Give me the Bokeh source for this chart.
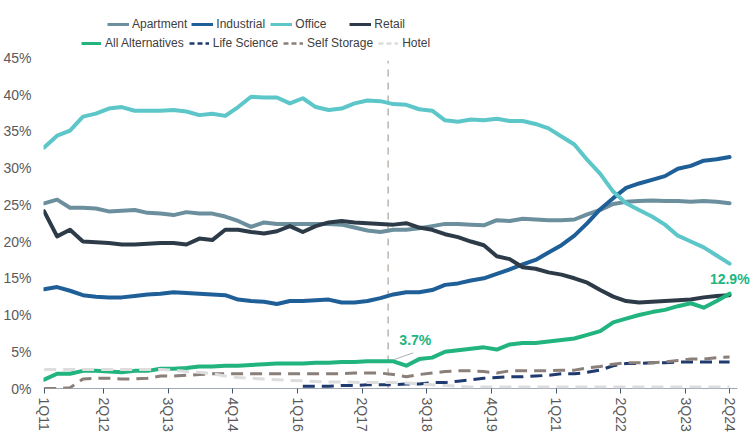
import numpy as np
from bokeh.plotting import figure
from bokeh.models import (Legend, LegendItem, FixedTicker, PrintfTickFormatter,
                          Range1d, Label)
from bokeh.embed import file_html
from bokeh.resources import INLINE

# ---------------- data ----------------
quarters = [f"{q}Q{yr % 100:02d}" for yr in range(2011, 2025) for q in range(1, 5)][:54]
tick_labels = ["1Q11", "2Q12", "3Q13", "4Q14", "1Q16", "2Q17", "3Q18",
               "4Q19", "1Q21", "2Q22", "3Q23", "2Q24"]
y_ticks = [0, 5, 10, 15, 20, 25, 30, 35, 40, 45]

apartment = [25.2, 25.7, 24.6, 24.6, 24.5, 24.1, 24.2, 24.3, 23.9, 23.8,
             23.6, 24.0, 23.8, 23.8, 23.4, 22.8, 22.0, 22.6, 22.4, 22.4,
             22.4, 22.4, 22.4, 22.3, 21.9, 21.5, 21.3, 21.6, 21.6, 21.8,
             22.1, 22.4, 22.4, 22.3, 22.2, 22.9, 22.8, 23.1, 23.0, 22.9,
             22.9, 23.0, 23.7, 24.3, 25.1, 25.4, 25.5, 25.6, 25.5, 25.5,
             25.4, 25.5, 25.4, 25.2]
industrial = [13.5, 13.8, 13.3, 12.7, 12.5, 12.4, 12.4, 12.6, 12.8, 12.9,
              13.1, 13.0, 12.9, 12.8, 12.7, 12.1, 11.9, 11.8, 11.5, 11.9,
              11.9, 12.0, 12.1, 11.7, 11.7, 11.9, 12.3, 12.8, 13.1, 13.1,
              13.4, 14.1, 14.3, 14.7, 15.0, 15.6, 16.2, 16.9, 17.5, 18.5,
              19.5, 20.8, 22.5, 24.4, 25.9, 27.3, 27.9, 28.4, 28.9, 29.9,
              30.3, 31.0, 31.2, 31.5]
office = [32.8, 34.4, 35.1, 37.0, 37.4, 38.1, 38.3, 37.8, 37.8, 37.8,
          37.9, 37.7, 37.2, 37.4, 37.1, 38.3, 39.7, 39.6, 39.6, 38.8,
          39.5, 38.3, 37.9, 38.1, 38.8, 39.2, 39.1, 38.7, 38.6, 38.0,
          37.8, 36.5, 36.3, 36.6, 36.5, 36.7, 36.4, 36.4, 36.0, 35.4,
          34.3, 33.2, 31.1, 29.2, 26.8, 25.2, 24.3, 23.4, 22.3, 20.8,
          20.0, 19.2, 18.1, 17.0]
retail = [24.1, 20.7, 21.6, 20.0, 19.9, 19.8, 19.6, 19.6, 19.7, 19.8,
          19.8, 19.6, 20.4, 20.2, 21.6, 21.6, 21.3, 21.1, 21.4, 22.1,
          21.3, 22.1, 22.6, 22.8, 22.6, 22.5, 22.4, 22.3, 22.5, 21.9,
          21.6, 21.0, 20.6, 20.0, 19.5, 18.0, 17.6, 16.5, 16.3, 15.8,
          15.5, 15.0, 14.4, 13.4, 12.5, 11.9, 11.7, 11.8, 11.9, 12.0,
          12.1, 12.4, 12.6, 12.7]
alternatives = [1.2, 2.0, 2.0, 2.4, 2.4, 2.3, 2.2, 2.4, 2.4, 2.7,
                2.7, 2.8, 3.0, 3.0, 3.1, 3.1, 3.2, 3.3, 3.4, 3.4,
                3.4, 3.5, 3.5, 3.6, 3.6, 3.7, 3.7, 3.7, 3.1, 4.0,
                4.2, 5.0, 5.2, 5.4, 5.6, 5.3, 6.0, 6.2, 6.2, 6.4,
                6.6, 6.8, 7.3, 7.8, 9.0, 9.5, 10.0, 10.4, 10.7, 11.2,
                11.6, 11.0, 11.9, 12.9]
life_science = [None, None, None, None, None, None, None, None, None, None,
                None, None, None, None, None, None, None, None, None, None,
                0.3, 0.3, 0.3, 0.4, 0.4, 0.5, 0.5, 0.5, 0.6, 0.6,
                0.8, 0.8, 1.0, 1.2, 1.4, 1.5, 1.6, 1.6, 1.7, 1.8,
                2.0, 2.0, 2.2, 2.5, 3.1, 3.4, 3.4, 3.5, 3.5, 3.6,
                3.6, 3.6, 3.6, 3.6]
self_storage = [0.0, 0.0, 0.1, 1.3, 1.4, 1.4, 1.3, 1.3, 1.4, 1.7,
                1.7, 1.8, 1.9, 2.0, 2.0, 2.0, 2.0, 2.0, 2.0, 2.0,
                2.0, 2.0, 2.0, 2.0, 2.1, 2.1, 2.1, 1.9, 1.6, 1.9,
                2.1, 2.3, 2.4, 2.4, 2.3, 2.1, 2.4, 2.4, 2.4, 2.4,
                2.5, 2.5, 2.8, 3.0, 3.3, 3.5, 3.5, 3.5, 3.6, 3.8,
                4.0, 4.0, 4.2, 4.3]
hotel = [2.6, 2.6, 2.6, 2.6, 2.6, 2.6, 2.6, 2.6, 2.6, 2.6,
         2.5, 2.3, 2.2, 2.0, 1.7, 1.5, 1.4, 1.3, 1.2, 1.1,
         1.05, 0.95, 0.9, 0.9, 0.85, 0.8, 0.8, 0.8, 0.75, 0.6,
         0.5, 0.4, 0.3, 0.2, 0.2, 0.2, 0.2, 0.2, 0.2, 0.2,
         0.2, 0.2, 0.2, 0.2, 0.2, 0.2, 0.2, 0.2, 0.2, 0.2,
         0.2, 0.2, 0.2, 0.2]

marker_quarter = "4Q17"       # vertical dashed reference line
callout_quarter = "4Q17"      # 3.7% callout

# ---------------- styling ----------------
FONT = "Liberation Sans"
TXT = "#595959"
AXIS = "#44546A"

x = np.arange(len(quarters))
tick_pos = []
for lbl in tick_labels:
    i = quarters.index(lbl)
    tick_pos.append(float(i) if i in (0, len(quarters) - 1) else round(i - 0.4, 1))

X0, X1 = -0.05, 54.85
p = figure(width=753, height=436, output_backend="svg", toolbar_location=None,
           x_range=Range1d(X0, X1), y_range=Range1d(0, 52.8),
           min_border_left=42, min_border_right=0, min_border_top=0,
           min_border_bottom=48)
p.grid.visible = False
p.outline_line_color = None

# x axis
p.xaxis.ticker = FixedTicker(ticks=tick_pos)
p.xaxis.major_label_overrides = {t: l for t, l in zip(tick_pos, tick_labels)}
p.xaxis.major_label_orientation = "vertical"
p.xaxis.axis_line_color = None
p.xaxis.major_tick_line_color = AXIS
p.xaxis.major_tick_out = 5
p.xaxis.major_tick_in = 0
p.xaxis.minor_tick_line_color = None
p.xaxis.major_label_standoff = 4
p.xaxis.major_label_text_font = FONT
p.xaxis.major_label_text_font_size = "14px"
p.xaxis.major_label_text_color = TXT

# y axis
p.yaxis.ticker = FixedTicker(ticks=y_ticks)
p.yaxis.formatter = PrintfTickFormatter(format="%d%%")
p.yaxis.axis_line_color = None
p.yaxis.major_tick_line_color = None
p.yaxis.minor_tick_line_color = None
p.yaxis.major_label_standoff = 6
p.yaxis.major_label_text_font = FONT
p.yaxis.major_label_text_font_size = "14px"
p.yaxis.major_label_text_color = TXT

# x axis baseline (stops just past the last quarter)
p.segment(x0=[X0], y0=[0], x1=[len(quarters) - 1 + 0.6], y1=[0],
          line_color=AXIS, line_width=1)

# vertical reference line
vx = quarters.index(marker_quarter) - 0.4
p.segment(x0=[vx], y0=[0], x1=[vx], y1=[44.6], line_color="#BDB5AE",
          line_width=1.5, line_dash="7 6")

series = [
    ("Apartment", apartment, "#6B8F9D", None, 4),
    ("Industrial", industrial, "#1F5F98", None, 4),
    ("Office", office, "#5CC6C9", None, 4),
    ("Retail", retail, "#2D3B48", None, 4),
    ("All Alternatives", alternatives, "#21B47F", None, 4),
    ("Life Science", life_science, "#1E3A6F", "12 7", 3),
    ("Self Storage", self_storage, "#8A7F79", "12 7", 3),
    ("Hotel", hotel, "#DDDDDD", "12 7", 3),
]

legend_renderers = {}
for name, vals, col, dash, w in series:
    y = np.array(vals, dtype=float)
    kw = dict(line_color=col, line_width=w, line_join="round")
    if dash:
        p.line(x, y, line_dash=dash, **kw)
    else:
        p.line(x, y, line_cap="round", **kw)
    # legend swatch (short dashes as in the original legend)
    r = p.line([np.nan], [np.nan], line_color=col,
               line_width=(3 if dash is None else 2.5),
               line_dash=("5 3" if dash else "solid"))
    legend_renderers[name] = r

def make_legend(names, loc, gw, so, lwid, sp):
    return Legend(items=[LegendItem(label=n, renderers=[legend_renderers[n]]) for n in names],
                  orientation="horizontal", location=loc,
                  glyph_width=gw, glyph_height=16, label_height=16,
                  label_standoff=so, label_width=lwid, spacing=sp,
                  padding=0, margin=0,
                  border_line_color=None, background_fill_alpha=0,
                  label_text_font=FONT, label_text_font_size="12px",
                  label_text_color="#404040")

leg1 = make_legend(["Apartment", "Industrial", "Office", "Retail"], (64, 356), 22, 3, 50, 4)
leg2 = make_legend(["All Alternatives", "Life Science", "Self Storage", "Hotel"], (38, 337), 20, 4, 10, 5)
p.add_layout(leg1)
p.add_layout(leg2)

# callouts
ci = quarters.index(callout_quarter)
p.segment(x0=[ci], y0=[alternatives[ci] + 0.2], x1=[ci + 20 / 12.95],
          y1=[alternatives[ci] + 7 / 7.35 + 0.2], line_color="#A9B1B8", line_width=1)
p.add_layout(Label(x=ci, y=alternatives[ci], text=f"{alternatives[ci]}%",
                   x_offset=22, y_offset=13, text_align="center",
                   text_font=FONT, text_font_size="14px", text_font_style="bold",
                   text_color="#21B47F"))
li = len(quarters) - 1
p.add_layout(Label(x=li, y=alternatives[li], text=f"{alternatives[li]}%",
                   x_offset=20, y_offset=7, text_align="right",
                   text_font=FONT, text_font_size="14px", text_font_style="bold",
                   text_color="#21B47F"))

open("out.html", "w").write(file_html(p, INLINE))
